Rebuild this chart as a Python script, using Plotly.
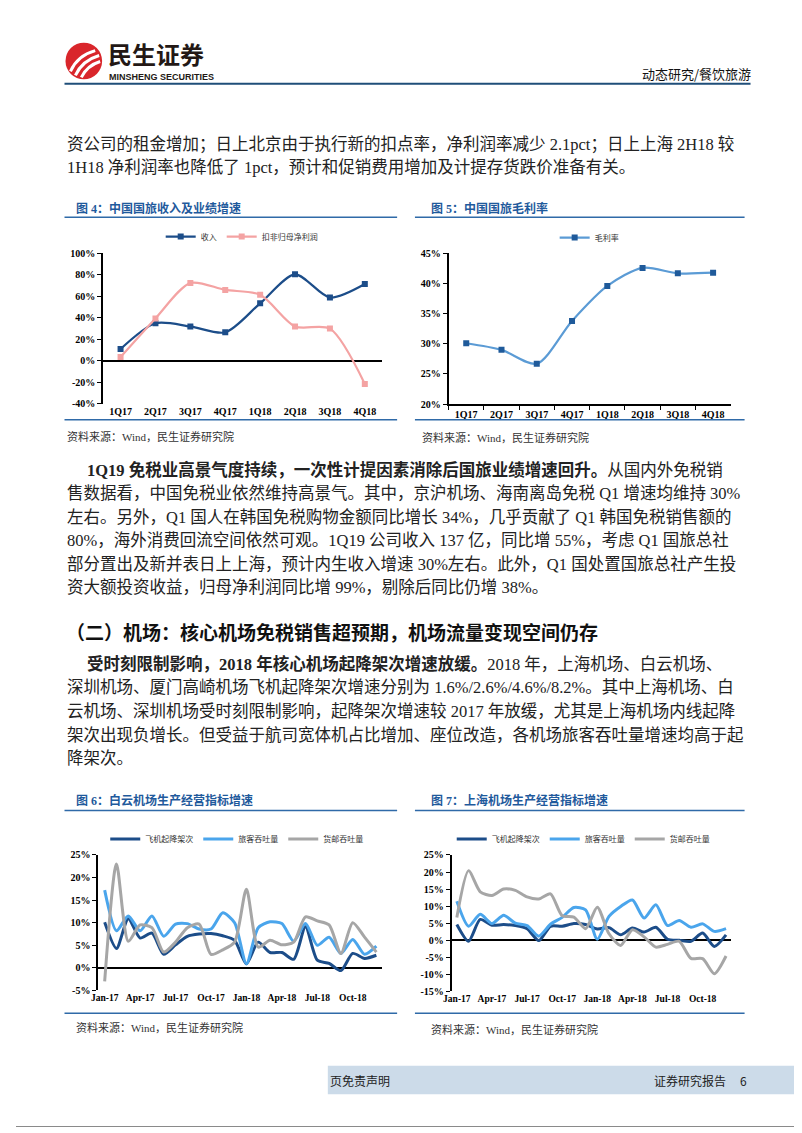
import plotly.graph_objects as go

# The page body has an 8px default margin, so the figure is placed 8px in and
# sized to exactly fill the rest of the 802x1133 window.
OFF = 8
W, H = 802 - OFF, 1133 - OFF


def px_x(v):
    return (v - OFF) / W


def px_y(v):
    return 1 - (v - OFF) / H


# ---------------- data ----------------
quarters = ["1Q17", "2Q17", "3Q17", "4Q17", "1Q18", "2Q18", "3Q18", "4Q18"]
cits_revenue_growth = [11.0, 35.0, 32.0, 26.5, 53.5, 80.5, 59.0, 71.5]
cits_core_profit_growth = [3.5, 39.5, 72.5, 66.0, 61.5, 32.0, 30.0, -21.5]
cits_gross_margin = [30.1, 29.0, 26.7, 33.8, 39.6, 42.6, 41.7, 41.8]

months = ["Jan-17", "Feb-17", "Mar-17", "Apr-17", "May-17", "Jun-17",
          "Jul-17", "Aug-17", "Sep-17", "Oct-17", "Nov-17", "Dec-17",
          "Jan-18", "Feb-18", "Mar-18", "Apr-18", "May-18", "Jun-18",
          "Jul-18", "Aug-18", "Sep-18", "Oct-18", "Nov-18", "Dec-18"]
month_ticks = ["Jan-17", "Apr-17", "Jul-17", "Oct-17",
               "Jan-18", "Apr-18", "Jul-18", "Oct-18"]

baiyun_flights = [10.1, 4.3, 10.9, 6.6, 7.7, 3.0, 5.1, 7.0, 7.5, 7.6, 7.1, 6.1,
                  0.9, 5.7, 3.4, 3.4, 1.9, 9.1, 1.7, 1.0, -0.6, 3.2, 2.1, 2.8]
baiyun_passengers = [17.2, 8.2, 11.5, 8.2, 11.5, 7.0, 9.7, 9.8, 8.6, 8.6, 12.2, 10.0,
                     0.9, 8.9, 10.2, 9.8, 5.9, 9.8, 5.0, 6.8, 3.2, 6.3, 3.0, 4.8]
baiyun_cargo = [-3.0, 23.0, 5.9, 9.5, 8.9, 3.5, 5.7, 8.9, 9.7, 3.0, 4.0, 5.7,
                17.4, 4.6, 6.1, 5.1, 5.7, 11.3, 10.4, 9.5, 3.2, 10.0, 6.8, 3.5]

shanghai_flights = [4.6, -0.3, 6.1, 4.4, 4.6, 4.3, 3.4, -0.1, 4.1, 4.1, 4.9, 4.6,
                    3.3, 3.7, 1.6, 3.6, 2.4, 3.8, 0.3, 0.0, -0.3, 2.1, -1.8, 1.6]
shanghai_passengers = [11.4, 4.1, 7.6, 4.9, 7.3, 5.0, 4.3, 1.2, 4.7, 6.7, 9.6, 8.9,
                       0.3, 7.0, 9.9, 11.8, 6.5, 10.4, 4.3, 5.8, 3.8, 4.8, 2.6, 3.4]
shanghai_cargo = [6.7, 20.4, 14.2, 13.1, 15.0, 14.6, 12.7, 12.1, 13.6, 7.2, 6.8, 3.4,
                  9.7, 1.9, -1.5, 3.1, 1.0, -2.0, -1.2, -0.3, -5.3, -5.4, -9.8, -4.6]

fig4_yticks = [-40, -20, 0, 20, 40, 60, 80, 100]
fig5_yticks = [20, 25, 30, 35, 40, 45]
fig6_yticks = [-5, 0, 5, 10, 15, 20, 25]
fig7_yticks = [-15, -10, -5, 0, 5, 10, 15, 20, 25]

# ---------------- styles ----------------
SERIF = "Liberation Serif, Noto Sans CJK SC"
CJK = "Noto Sans CJK SC"
NAVY = "#1c4d89"
PINK = "#f4a3a3"
MIDBLUE = "#5b9bd5"
SKY = "#4aa5ec"
GRAY = "#a6a6a6"
TITLE_BLUE = "#1f5a9c"
RULE_BLUE = "#2f6aa8"
BODY = 16.5

fig = go.Figure()

# Figure 4
fig.add_trace(go.Scatter(x=quarters, y=cits_revenue_growth, name="收入",
                         mode="lines+markers", xaxis="x", yaxis="y", legend="legend",
                         line=dict(color=NAVY, width=2.2, shape="spline", smoothing=0.8),
                         marker=dict(symbol="square", size=6, color=NAVY)))
fig.add_trace(go.Scatter(x=quarters, y=cits_core_profit_growth, name="扣非归母净利润",
                         mode="lines+markers", xaxis="x", yaxis="y", legend="legend",
                         line=dict(color=PINK, width=2.2, shape="spline", smoothing=0.8),
                         marker=dict(symbol="square", size=6, color=PINK)))
# Figure 5
fig.add_trace(go.Scatter(x=quarters, y=cits_gross_margin, name="毛利率",
                         mode="lines+markers", xaxis="x2", yaxis="y2", legend="legend2",
                         line=dict(color=MIDBLUE, width=2.2, shape="spline", smoothing=0.8),
                         marker=dict(symbol="square", size=6, color="#1f5a9a")))
# Figure 6
for vals, nm, col in [(baiyun_flights, "飞机起降架次", NAVY),
                      (baiyun_passengers, "旅客吞吐量", SKY),
                      (baiyun_cargo, "货邮吞吐量", GRAY)]:
    fig.add_trace(go.Scatter(x=months, y=vals, name=nm, mode="lines",
                             xaxis="x3", yaxis="y3", legend="legend3",
                             line=dict(color=col, width=3, shape="spline", smoothing=0.7)))
# Figure 7
for vals, nm, col in [(shanghai_flights, "飞机起降架次", NAVY),
                      (shanghai_passengers, "旅客吞吐量", SKY),
                      (shanghai_cargo, "货邮吞吐量", GRAY)]:
    fig.add_trace(go.Scatter(x=months, y=vals, name=nm, mode="lines",
                             xaxis="x4", yaxis="y4", legend="legend4",
                             line=dict(color=col, width=3, shape="spline", smoothing=0.7)))


def yax(top, bottom, anchor, rng, ticks, size=10, zero=True):
    return dict(domain=[px_y(bottom), px_y(top)], anchor=anchor, range=rng,
                tickvals=ticks, ticktext=[f"<b>{t}%</b>" for t in ticks],
                showline=True, linecolor="black", linewidth=1.5,
                ticks="outside", ticklen=4, tickcolor="black", tickwidth=1,
                showgrid=False, zeroline=zero, zerolinecolor="black", zerolinewidth=1.5,
                tickfont=dict(family=SERIF, size=size, color="black"), fixedrange=True)


def xax(left, right, anchor, cats, rng, tickcats, showline=False, size=10, ticks=""):
    d = dict(domain=[px_x(left), px_x(right)], anchor=anchor, type="category",
             categoryorder="array", categoryarray=cats, range=rng,
             tickvals=tickcats, ticktext=[f"<b>{c}</b>" for c in tickcats],
             showline=showline, linecolor="black", linewidth=1.5,
             ticks=ticks, showgrid=False, zeroline=False,
             tickfont=dict(family=SERIF, size=size, color="black"), fixedrange=True)
    if ticks:
        d.update(tickson="boundaries", ticklen=4, tickcolor="black", tickwidth=1)
    return d


def leg(cx, cy):
    return dict(x=px_x(cx), y=px_y(cy), xanchor="center", yanchor="middle",
                orientation="h", bgcolor="rgba(0,0,0,0)", itemwidth=30,
                font=dict(family=CJK, size=8, color="#333333"))


fig.update_layout(
    width=W, height=H, autosize=False,
    margin=dict(l=0, r=0, t=0, b=0),
    paper_bgcolor="white", plot_bgcolor="white",
    showlegend=True,
    xaxis=xax(96, 378, "y", quarters, [-0.5, 7.5], quarters),
    yaxis=yax(250, 402, "x", [-40, 100], fig4_yticks),
    xaxis2=xax(445, 730, "y2", quarters, [-0.5, 7.5], quarters, showline=True,
               ticks="outside"),
    yaxis2=yax(250, 402.3, "x2", [20, 45], fig5_yticks, zero=False),
    xaxis3=xax(91, 378, "y3", months, [-0.55, 23.5], month_ticks, size=9.5),
    yaxis3=yax(858, 995, "x3", [-5, 25], fig6_yticks),
    xaxis4=xax(448, 730, "y4", months, [-0.45, 23.4], month_ticks, size=9.5),
    yaxis4=yax(858, 996, "x4", [-15, 25], fig7_yticks),
    legend=leg(236, 233),
    legend2=leg(587, 234),
    legend3=leg(231, 842),
    legend4=leg(581, 842),
)

shapes = []
ann = []


def hline(x0, x1, y, color, width):
    shapes.append(dict(type="line", xref="paper", yref="paper",
                       x0=px_x(x0), x1=px_x(x1), y0=px_y(y), y1=px_y(y),
                       line=dict(color=color, width=width)))


def text(x, y, s, size=BODY, color="#222222", family=SERIF, anchor="left"):
    ann.append(dict(xref="paper", yref="paper", x=px_x(x), y=px_y(y), text=s,
                    showarrow=False, xanchor=anchor, yanchor="middle",
                    font=dict(family=family, size=size, color=color)))


# page border (right and bottom edges fall inside the canvas)
shapes.append(dict(type="line", xref="paper", yref="paper",
                   x0=px_x(801.5), x1=px_x(801.5), y0=px_y(1132.5), y1=px_y(8),
                   line=dict(color="#8a8a8a", width=1)))
shapes.append(dict(type="line", xref="paper", yref="paper",
                   x0=px_x(8), x1=px_x(801.5), y0=px_y(1132.5), y1=px_y(1132.5),
                   line=dict(color="#8a8a8a", width=1)))

# header logo
shapes.append(dict(type="circle", xref="paper", yref="paper",
                   x0=px_x(58), x1=px_x(95), y0=px_y(74), y1=px_y(37),
                   fillcolor="#d9262b", line=dict(width=0)))
for (ax, ay, bx, by, cx_, cy_) in [(63, 66, 70, 50, 88, 45),
                                   (68, 70, 75, 55, 92, 50),
                                   (74, 72, 80, 60, 93, 56)]:
    path = (f"M {px_x(ax)} {px_y(ay)} Q {px_x(bx)} {px_y(by)} "
            f"{px_x(cx_)} {px_y(cy_)}")
    shapes.append(dict(type="path", xref="paper", yref="paper", path=path,
                       line=dict(color="white", width=3)))
text(99, 48, "<b>民生证券</b>", size=24, color="#231815", family=CJK)
text(100, 72, "<b>MINSHENG SECURITIES</b>", size=9, color="#231815",
     family="Liberation Sans Narrow, Liberation Sans")
text(752, 68, "动态研究/餐饮旅游", size=13, color="#111111", family=CJK, anchor="right")
hline(57, 750, 78.5, "#1f4e79", 2)

# paragraph 1
text(58, 140, "资公司的租金增加；日上北京由于执行新的扣点率，净利润率减少 2.1pct；日上上海 2H18 较")
text(58, 163, "1H18 净利润率也降低了 1pct，预计和促销费用增加及计提存货跌价准备有关。")

# figure titles, rules and sources
for x0, x1, tx, title, y_t, y_rule, y_bot, sx, sy in [
    (57, 393, 67, "图 4：中国国旅收入及业绩增速", 205, 213.5, 418, 58, 435),
    (411, 744, 425, "图 5：中国国旅毛利率", 205, 213.5, 418, 416, 436),
    (57, 393, 67, "图 6：白云机场生产经营指标增速", 803, 813, 1018, 67, 1032),
    (411, 744, 425, "图 7：上海机场生产经营指标增速", 803, 813, 1018, 425, 1034),
]:
    text(tx, y_t, f"<b>{title}</b>", size=12, color=TITLE_BLUE, family=SERIF)
    hline(x0, x1, y_rule, RULE_BLUE, 1.5)
    hline(x0, x1, y_bot, RULE_BLUE, 1.5)
    text(sx, sy, "资料来源：Wind，民生证券研究院", size=11, color="#333333")

# paragraph 2
text(78, 469, "<b>1Q19 免税业高景气度持续，一次性计提因素消除后国旅业绩增速回升。</b>从国内外免税销")
text(58, 493, "售数据看，中国免税业依然维持高景气。其中，京沪机场、海南离岛免税 Q1 增速均维持 30%")
text(58, 517, "左右。另外，Q1 国人在韩国免税购物金额同比增长 34%，几乎贡献了 Q1 韩国免税销售额的")
text(58, 540, "80%，海外消费回流空间依然可观。1Q19 公司收入 137 亿，同比增 55%，考虑 Q1 国旅总社")
text(58, 564, "部分置出及新并表日上上海，预计内生收入增速 30%左右。此外，Q1 国处置国旅总社产生投")
text(58, 588, "资大额投资收益，归母净利润同比增 99%，剔除后同比仍增 38%。")

# section heading
text(56, 632, "<b>（二）机场：核心机场免税销售超预期，机场流量变现空间仍存</b>", size=19,
     color="#111111", family=CJK)

# paragraph 3
text(78, 665, "<b>受时刻限制影响，2018 年核心机场起降架次增速放缓。</b>2018 年，上海机场、白云机场、")
text(58, 689, "深圳机场、厦门高崎机场飞机起降架次增速分别为 1.6%/2.6%/4.6%/8.2%。其中上海机场、白")
text(58, 713, "云机场、深圳机场受时刻限制影响，起降架次增速较 2017 年放缓，尤其是上海机场内线起降")
text(58, 737, "架次出现负增长。但受益于航司宽体机占比增加、座位改造，各机场旅客吞吐量增速均高于起")
text(58, 761, "降架次。")

# footer
shapes.append(dict(type="rect", xref="paper", yref="paper",
                   x0=px_x(323), x1=px_x(801), y0=px_y(1100), y1=px_y(1071),
                   fillcolor="#ccdbe9", line=dict(width=0), layer="below"))
text(323, 1086, "页免责声明", size=12, color="#222222", family=CJK)
text(650, 1086, "证券研究报告", size=12, color="#222222", family=CJK)
text(737, 1086, "6", size=12, color="#222222", family=CJK)

fig.update_layout(shapes=shapes, annotations=ann)
fig.write_html("out.html")
